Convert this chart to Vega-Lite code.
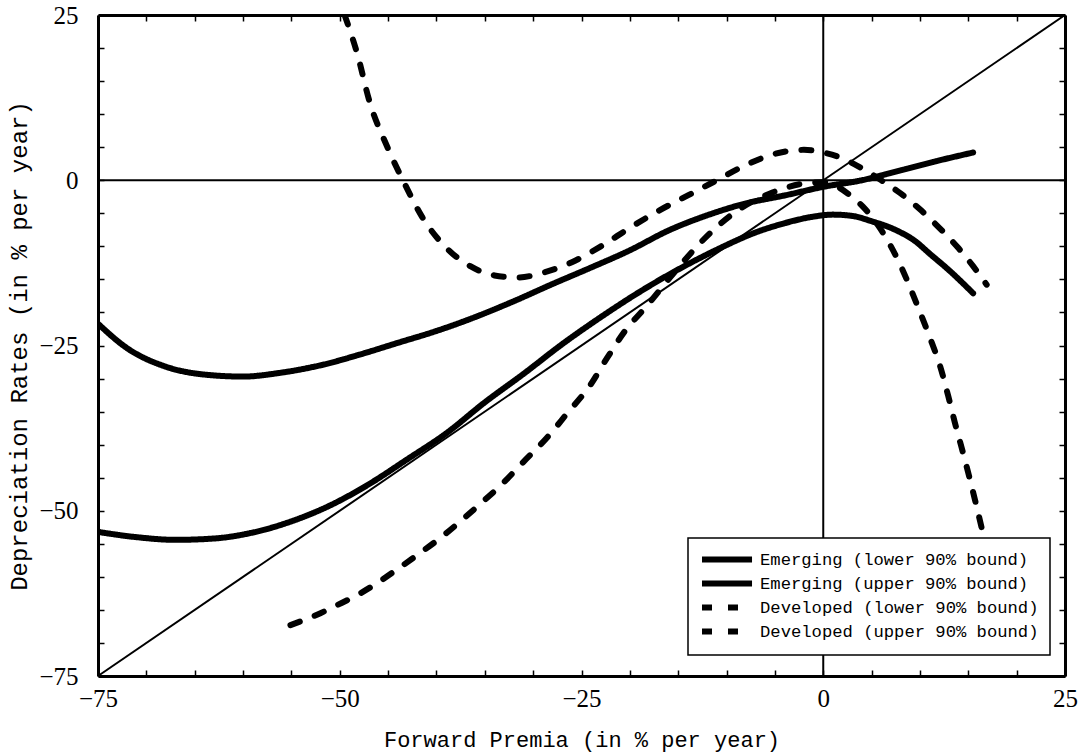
{
  "$schema": "https://vega.github.io/schema/vega-lite/v6.json",
  "width": 967,
  "height": 661,
  "autosize": {"type": "none"},
  "padding": {"left": 98, "top": 15, "right": 20, "bottom": 80},
  "background": "white",
  "config": {
    "view": {"stroke": null},
    "axis": {
      "grid": false,
      "domainColor": "black",
      "domainWidth": 3,
      "tickColor": "black",
      "tickWidth": 1.5,
      "tickSize": -6,
      "labelFont": "Liberation Serif",
      "labelFontSize": 25,
      "labelColor": "black",
      "labelFlush": false,
      "labelOverlap": false,
      "titleFont": "Liberation Mono",
      "titleFontSize": 22,
      "titleFontWeight": "normal",
      "titleColor": "black"
    },
    "legend": {
      "orient": "none",
      "legendX": 590,
      "legendY": 523,
      "strokeColor": "black",
      "strokeWidth": 1.5,
      "fillColor": "white",
      "padding": 11,
      "labelFont": "Liberation Mono",
      "labelFontSize": 17.2,
      "labelColor": "black",
      "labelOffset": 40,
      "labelLimit": 0,
      "symbolType": "M-1,0H5.67",
      "symbolSize": 225,
      "symbolStrokeWidth": 6,
      "symbolStrokeColor": "black",
      "symbolFillColor": "transparent",
      "rowPadding": -1
    }
  },
  "datasets": {
    "refs": [
      {"x": 0, "y": -75, "x2": 0, "y2": 25},
      {"x": -75, "y": 0, "x2": 25, "y2": 0},
      {"x": -75, "y": -75, "x2": 25, "y2": 25}
    ],
    "curves": [
      {"series": "Emerging (lower 90% bound)", "fp": -75, "dr": -53.2},
      {"series": "Emerging (lower 90% bound)", "fp": -71, "dr": -54.0},
      {"series": "Emerging (lower 90% bound)", "fp": -67, "dr": -54.4},
      {"series": "Emerging (lower 90% bound)", "fp": -63, "dr": -54.2},
      {"series": "Emerging (lower 90% bound)", "fp": -59, "dr": -53.3},
      {"series": "Emerging (lower 90% bound)", "fp": -55, "dr": -51.6},
      {"series": "Emerging (lower 90% bound)", "fp": -51, "dr": -49.2},
      {"series": "Emerging (lower 90% bound)", "fp": -47, "dr": -46.0},
      {"series": "Emerging (lower 90% bound)", "fp": -43, "dr": -42.2},
      {"series": "Emerging (lower 90% bound)", "fp": -39, "dr": -38.3},
      {"series": "Emerging (lower 90% bound)", "fp": -35, "dr": -33.6},
      {"series": "Emerging (lower 90% bound)", "fp": -31, "dr": -29.3},
      {"series": "Emerging (lower 90% bound)", "fp": -27, "dr": -24.8},
      {"series": "Emerging (lower 90% bound)", "fp": -23, "dr": -20.7},
      {"series": "Emerging (lower 90% bound)", "fp": -19, "dr": -16.9},
      {"series": "Emerging (lower 90% bound)", "fp": -15, "dr": -13.5},
      {"series": "Emerging (lower 90% bound)", "fp": -11, "dr": -10.5},
      {"series": "Emerging (lower 90% bound)", "fp": -7, "dr": -7.9},
      {"series": "Emerging (lower 90% bound)", "fp": -4, "dr": -6.5},
      {"series": "Emerging (lower 90% bound)", "fp": -1, "dr": -5.5},
      {"series": "Emerging (lower 90% bound)", "fp": 1, "dr": -5.2},
      {"series": "Emerging (lower 90% bound)", "fp": 3, "dr": -5.4},
      {"series": "Emerging (lower 90% bound)", "fp": 5, "dr": -6.2},
      {"series": "Emerging (lower 90% bound)", "fp": 7.6, "dr": -7.6},
      {"series": "Emerging (lower 90% bound)", "fp": 9.5, "dr": -9.2},
      {"series": "Emerging (lower 90% bound)", "fp": 11, "dr": -11.1},
      {"series": "Emerging (lower 90% bound)", "fp": 13, "dr": -13.6},
      {"series": "Emerging (lower 90% bound)", "fp": 15.5, "dr": -17.1},

      {"series": "Emerging (upper 90% bound)", "fp": -75, "dr": -21.7},
      {"series": "Emerging (upper 90% bound)", "fp": -72, "dr": -25.4},
      {"series": "Emerging (upper 90% bound)", "fp": -68, "dr": -28.2},
      {"series": "Emerging (upper 90% bound)", "fp": -64, "dr": -29.4},
      {"series": "Emerging (upper 90% bound)", "fp": -60, "dr": -29.7},
      {"series": "Emerging (upper 90% bound)", "fp": -56, "dr": -29.1},
      {"series": "Emerging (upper 90% bound)", "fp": -52, "dr": -28.0},
      {"series": "Emerging (upper 90% bound)", "fp": -48, "dr": -26.4},
      {"series": "Emerging (upper 90% bound)", "fp": -44, "dr": -24.6},
      {"series": "Emerging (upper 90% bound)", "fp": -40, "dr": -22.8},
      {"series": "Emerging (upper 90% bound)", "fp": -36, "dr": -20.7},
      {"series": "Emerging (upper 90% bound)", "fp": -32, "dr": -18.3},
      {"series": "Emerging (upper 90% bound)", "fp": -28, "dr": -15.7},
      {"series": "Emerging (upper 90% bound)", "fp": -24, "dr": -13.2},
      {"series": "Emerging (upper 90% bound)", "fp": -20, "dr": -10.6},
      {"series": "Emerging (upper 90% bound)", "fp": -16, "dr": -7.6},
      {"series": "Emerging (upper 90% bound)", "fp": -12, "dr": -5.3},
      {"series": "Emerging (upper 90% bound)", "fp": -8, "dr": -3.5},
      {"series": "Emerging (upper 90% bound)", "fp": -4, "dr": -2.3},
      {"series": "Emerging (upper 90% bound)", "fp": 0, "dr": -1.0},
      {"series": "Emerging (upper 90% bound)", "fp": 4, "dr": 0.0},
      {"series": "Emerging (upper 90% bound)", "fp": 8, "dr": 1.5},
      {"series": "Emerging (upper 90% bound)", "fp": 12, "dr": 3.0},
      {"series": "Emerging (upper 90% bound)", "fp": 15.5, "dr": 4.2},

      {"series": "Developed (lower 90% bound)", "fp": -55.1, "dr": -67.3},
      {"series": "Developed (lower 90% bound)", "fp": -52, "dr": -65.5},
      {"series": "Developed (lower 90% bound)", "fp": -50.3, "dr": -64.3},
      {"series": "Developed (lower 90% bound)", "fp": -48, "dr": -62.6},
      {"series": "Developed (lower 90% bound)", "fp": -46.2, "dr": -61.0},
      {"series": "Developed (lower 90% bound)", "fp": -44, "dr": -58.8},
      {"series": "Developed (lower 90% bound)", "fp": -41.7, "dr": -56.4},
      {"series": "Developed (lower 90% bound)", "fp": -39.5, "dr": -54.0},
      {"series": "Developed (lower 90% bound)", "fp": -37.6, "dr": -51.7},
      {"series": "Developed (lower 90% bound)", "fp": -35.5, "dr": -49.0},
      {"series": "Developed (lower 90% bound)", "fp": -33.1, "dr": -45.8},
      {"series": "Developed (lower 90% bound)", "fp": -31, "dr": -42.6},
      {"series": "Developed (lower 90% bound)", "fp": -28.6, "dr": -39.0},
      {"series": "Developed (lower 90% bound)", "fp": -26.5, "dr": -35.3},
      {"series": "Developed (lower 90% bound)", "fp": -24.1, "dr": -31.0},
      {"series": "Developed (lower 90% bound)", "fp": -22.4, "dr": -27.0},
      {"series": "Developed (lower 90% bound)", "fp": -20.5, "dr": -22.8},
      {"series": "Developed (lower 90% bound)", "fp": -18.3, "dr": -19.1},
      {"series": "Developed (lower 90% bound)", "fp": -15.5, "dr": -14.1},
      {"series": "Developed (lower 90% bound)", "fp": -12.4, "dr": -9.0},
      {"series": "Developed (lower 90% bound)", "fp": -9, "dr": -4.7},
      {"series": "Developed (lower 90% bound)", "fp": -5.5, "dr": -2.0},
      {"series": "Developed (lower 90% bound)", "fp": -2, "dr": -0.5},
      {"series": "Developed (lower 90% bound)", "fp": 0, "dr": -0.3},
      {"series": "Developed (lower 90% bound)", "fp": 1.5, "dr": -1.0},
      {"series": "Developed (lower 90% bound)", "fp": 2.7, "dr": -2.2},
      {"series": "Developed (lower 90% bound)", "fp": 4.1, "dr": -4.0},
      {"series": "Developed (lower 90% bound)", "fp": 6.2, "dr": -8.0},
      {"series": "Developed (lower 90% bound)", "fp": 7.9, "dr": -12.6},
      {"series": "Developed (lower 90% bound)", "fp": 9.8, "dr": -19.2},
      {"series": "Developed (lower 90% bound)", "fp": 11.0, "dr": -23.7},
      {"series": "Developed (lower 90% bound)", "fp": 12.1, "dr": -28.2},
      {"series": "Developed (lower 90% bound)", "fp": 12.9, "dr": -32.5},
      {"series": "Developed (lower 90% bound)", "fp": 13.6, "dr": -36.6},
      {"series": "Developed (lower 90% bound)", "fp": 14.3, "dr": -40.4},
      {"series": "Developed (lower 90% bound)", "fp": 15.0, "dr": -44.3},
      {"series": "Developed (lower 90% bound)", "fp": 15.7, "dr": -48.4},
      {"series": "Developed (lower 90% bound)", "fp": 16.4, "dr": -52.7},

      {"series": "Developed (upper 90% bound)", "fp": -49.5, "dr": 25},
      {"series": "Developed (upper 90% bound)", "fp": -48.2, "dr": 19.2},
      {"series": "Developed (upper 90% bound)", "fp": -46.9, "dr": 11.8},
      {"series": "Developed (upper 90% bound)", "fp": -45.1, "dr": 5.1},
      {"series": "Developed (upper 90% bound)", "fp": -43.4, "dr": -0.2},
      {"series": "Developed (upper 90% bound)", "fp": -41.5, "dr": -5.5},
      {"series": "Developed (upper 90% bound)", "fp": -39, "dr": -10.2},
      {"series": "Developed (upper 90% bound)", "fp": -36.5, "dr": -13.0},
      {"series": "Developed (upper 90% bound)", "fp": -34, "dr": -14.4},
      {"series": "Developed (upper 90% bound)", "fp": -31.5, "dr": -14.7},
      {"series": "Developed (upper 90% bound)", "fp": -29, "dr": -14.0},
      {"series": "Developed (upper 90% bound)", "fp": -26, "dr": -12.4},
      {"series": "Developed (upper 90% bound)", "fp": -23, "dr": -10.0},
      {"series": "Developed (upper 90% bound)", "fp": -20, "dr": -7.2},
      {"series": "Developed (upper 90% bound)", "fp": -17, "dr": -4.6},
      {"series": "Developed (upper 90% bound)", "fp": -14, "dr": -2.3},
      {"series": "Developed (upper 90% bound)", "fp": -11, "dr": 0.0},
      {"series": "Developed (upper 90% bound)", "fp": -8, "dr": 2.3},
      {"series": "Developed (upper 90% bound)", "fp": -5, "dr": 4.0},
      {"series": "Developed (upper 90% bound)", "fp": -2, "dr": 4.6},
      {"series": "Developed (upper 90% bound)", "fp": 0, "dr": 4.2},
      {"series": "Developed (upper 90% bound)", "fp": 2, "dr": 3.3},
      {"series": "Developed (upper 90% bound)", "fp": 4, "dr": 1.8},
      {"series": "Developed (upper 90% bound)", "fp": 6, "dr": 0.0},
      {"series": "Developed (upper 90% bound)", "fp": 8, "dr": -2.0},
      {"series": "Developed (upper 90% bound)", "fp": 10, "dr": -4.4},
      {"series": "Developed (upper 90% bound)", "fp": 12, "dr": -7.2},
      {"series": "Developed (upper 90% bound)", "fp": 14, "dr": -10.3},
      {"series": "Developed (upper 90% bound)", "fp": 15.5, "dr": -13.0},
      {"series": "Developed (upper 90% bound)", "fp": 16.9, "dr": -15.8}
    ]
  },
  "layer": [
    {
      "data": {"name": "refs"},
      "mark": {"type": "rule", "color": "black", "strokeWidth": 2},
      "encoding": {
        "x": {
          "field": "x", "type": "quantitative",
          "scale": {"domain": [-75, 25], "nice": false, "zero": false},
          "axis": {"orient": "top", "labels": false, "title": null,
                   "values": [-75,-70,-65,-60,-55,-50,-45,-40,-35,-30,-25,-20,-15,-10,-5,0,5,10,15,20,25]}
        },
        "y": {
          "field": "y", "type": "quantitative",
          "scale": {"domain": [-75, 25], "nice": false, "zero": false},
          "axis": {"orient": "right", "labels": false, "title": null,
                   "values": [-75,-70,-65,-60,-55,-50,-45,-40,-35,-30,-25,-20,-15,-10,-5,0,5,10,15,20,25]}
        },
        "x2": {"field": "x2"},
        "y2": {"field": "y2"}
      }
    },
    {
      "data": {"name": "curves"},
      "mark": {"type": "line", "color": "black", "strokeWidth": 6, "strokeCap": "round", "strokeJoin": "round", "interpolate": "monotone", "clip": true},
      "encoding": {
        "x": {
          "field": "fp", "type": "quantitative",
          "scale": {"domain": [-75, 25], "nice": false, "zero": false},
          "axis": {"orient": "bottom", "title": "Forward Premia (in % per year)",
                   "values": [-75,-70,-65,-60,-55,-50,-45,-40,-35,-30,-25,-20,-15,-10,-5,0,5,10,15,20,25],
                   "labelExpr": "datum.value % 25 === 0 ? datum.label : ''",
                   "labelPadding": 16, "titlePadding": 18}
        },
        "y": {
          "field": "dr", "type": "quantitative",
          "scale": {"domain": [-75, 25], "nice": false, "zero": false},
          "axis": {"orient": "left", "title": "Depreciation Rates (in % per year)",
                   "values": [-75,-70,-65,-60,-55,-50,-45,-40,-35,-30,-25,-20,-15,-10,-5,0,5,10,15,20,25],
                   "labelExpr": "datum.value % 25 === 0 ? datum.label : ''",
                   "labelPadding": 26, "titlePadding": 7, "titleFontSize": 24}
        },
        "strokeDash": {
          "field": "series", "type": "nominal",
          "scale": {
            "domain": ["Emerging (lower 90% bound)", "Emerging (upper 90% bound)", "Developed (lower 90% bound)", "Developed (upper 90% bound)"],
            "range": [[1, 0], [1, 0], [10, 16], [10, 16]]
          },
          "legend": {"title": null}
        },
        "detail": {"field": "series"}
      }
    }
  ],
  "resolve": {"axis": {"x": "independent", "y": "independent"}}
}
